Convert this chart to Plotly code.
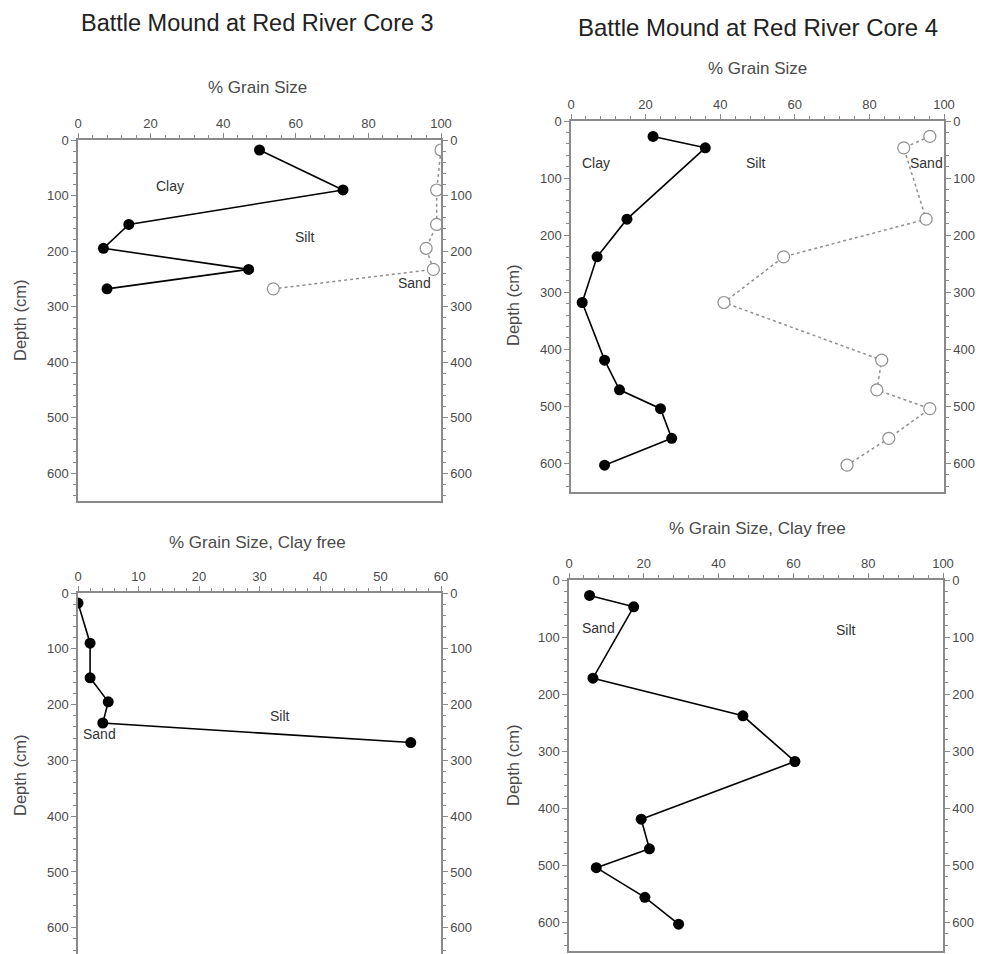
import plotly.graph_objects as go

# ---------------- data ----------------
depth_c3 = [18, 90, 152, 195, 233, 268]
clay_c3 = [50, 73, 14, 7, 47, 8]
claysilt_c3 = [100, 98.8, 98.8, 95.9, 97.9, 53.8]          # open circles (boundary silt/sand)
sand_cf_c3 = [0, 2, 2, 5, 4.1, 55]                          # clay-free

depth_c4 = [27, 47, 172, 238, 318, 419, 471, 504, 556, 603]
clay_c4 = [22, 36, 15, 7, 3, 9, 13, 24, 27, 9]
claysilt_c4 = [96.2, 89.2, 95.2, 57, 41, 83.3, 82, 96.2, 85.2, 74]
sand_cf_c4 = [5.5, 17.3, 6.4, 46.5, 60.4, 19.3, 21.5, 7.3, 20.3, 29.3]

titles = ["Battle Mound at Red River Core 3", "Battle Mound at Red River Core 4"]
subtitles = ["% Grain Size", "% Grain Size", "% Grain Size, Clay free", "% Grain Size, Clay free"]
ylabel = "Depth (cm)"

OFF = 8                      # page body margin
W, H = 984 - OFF, 954 - OFF
FONT = "Arial, Liberation Sans, sans-serif"
AX = "#8a8a8a"
TXT = "#4a4a4a"

# panel pixel boxes (screen coords): x0, x1, y0, y1
boxes = {
    1: (78, 441, 140, 501),
    2: (571, 944, 121, 492),
    3: (78, 441, 593, 954),
    4: (569, 943, 580, 951),
}
xmax = {1: 100, 2: 100, 3: 60, 4: 100}
xdt = {1: 20, 2: 20, 3: 10, 4: 20}
xminor = {1: 4, 2: 4, 3: 2, 4: 4}
ymax = {1: 650, 2: 650, 3: 647, 4: 650}

def px2x(px):
    return (px - OFF) / W

def py2y(py):
    return 1 - (py - OFF) / H

fig = go.Figure()

def ax(i):
    return ("x" if i == 1 else f"x{i}"), ("y" if i == 1 else f"y{i}")

def clay_line(i, x, y):
    xa, ya = ax(i)
    fig.add_trace(go.Scatter(x=x, y=y, xaxis=xa, yaxis=ya, mode="lines+markers",
                             line=dict(color="black", width=1.6),
                             marker=dict(color="black", size=11), showlegend=False))

def sand_line(i, x, y):
    xa, ya = ax(i)
    fig.add_trace(go.Scatter(x=x, y=y, xaxis=xa, yaxis=ya, mode="lines+markers",
                             line=dict(color="#8f8f8f", width=1.5, dash="dot"),
                             marker=dict(color="white", size=12,
                                         line=dict(color="#8f8f8f", width=1.2)),
                             showlegend=False))

clay_line(1, clay_c3, depth_c3)
sand_line(1, claysilt_c3, depth_c3)
clay_line(2, clay_c4, depth_c4)
sand_line(2, claysilt_c4, depth_c4)
clay_line(3, sand_cf_c3, depth_c3)
clay_line(4, sand_cf_c4, depth_c4)

layout = dict(width=W, height=H, margin=dict(l=0, r=0, t=0, b=0, autoexpand=False),
              paper_bgcolor="white", plot_bgcolor="white",
              font=dict(family=FONT, color=TXT, size=13), showlegend=False)

def common(extra):
    d = dict(showgrid=False, zeroline=False, automargin=False, showline=True,
             linecolor=AX, linewidth=1.5, ticks="outside", ticklen=5, tickcolor=AX,
             tickfont=dict(size=13, color=TXT))
    d.update(extra)
    return d

for i, (x0, x1, y0, y1) in boxes.items():
    xd = [max(0, px2x(x0)), min(1, px2x(x1))]
    yd = [max(0, py2y(y1)), min(1, py2y(y0))]
    xa, ya = ax(i)
    key_x = "xaxis" if i == 1 else f"xaxis{i}"
    key_y = "yaxis" if i == 1 else f"yaxis{i}"
    layout[key_x] = common(dict(domain=xd, anchor=ya, side="top", range=[0, xmax[i]],
                                dtick=xdt[i], tick0=0, mirror=(i != 3),
                                minor=dict(dtick=xminor[i], ticks="outside", ticklen=3,
                                           tickcolor=AX, showgrid=False)))
    layout[key_y] = common(dict(domain=yd, anchor=xa, range=[ymax[i], 0], dtick=100,
                                tick0=0,
                                minor=dict(dtick=20, ticks="outside", ticklen=3,
                                           tickcolor=AX, showgrid=False)))
    ri = i + 4
    layout[f"yaxis{ri}"] = common(dict(overlaying=ya, anchor=xa, side="right",
                                       range=[ymax[i], 0], dtick=100, tick0=0,
                                       minor=dict(dtick=20, ticks="outside", ticklen=3,
                                                  tickcolor=AX, showgrid=False)))
    fig.add_trace(go.Scatter(x=[None], y=[None], xaxis=xa, yaxis=f"y{ri}",
                             mode="markers", showlegend=False, hoverinfo="skip"))

ann = []
def pa(text, px, py, size, color=TXT, angle=0):
    ann.append(dict(text=text, x=px2x(px), y=py2y(py), xref="paper", yref="paper",
                    showarrow=False, font=dict(size=size, color=color, family=FONT),
                    textangle=angle, xanchor="center", yanchor="middle"))

pa(titles[0], 258, 23, 23.5, "#222222")
pa(titles[1], 758, 27, 24, "#222222")
pa(subtitles[0], 258, 88, 17)
pa(subtitles[1], 757, 69, 17)
pa(subtitles[2], 258, 542, 17)
pa(subtitles[3], 757, 528, 17)
pa(ylabel, 20, 320, 16.5, TXT, -90)
pa(ylabel, 513, 305, 16.5, TXT, -90)
pa(ylabel, 20, 775, 16.5, TXT, -90)
pa(ylabel, 513, 765, 16.5, TXT, -90)

def da(text, i, x, y):
    xa, ya = ax(i)
    ann.append(dict(text=text, x=x, y=y, xref=xa, yref=ya, showarrow=False,
                    font=dict(size=14, color="#333333", family=FONT)))

da("Clay", 1, 25.3, 82)
da("Silt", 1, 62.6, 175)
da("Sand", 1, 92.6, 258)
da("Clay", 2, 6.7, 73)
da("Silt", 2, 49.5, 73)
da("Sand", 2, 95.4, 73)
da("Silt", 3, 33.4, 221)
da("Sand", 3, 3.6, 252)
da("Sand", 4, 7.8, 84)
da("Silt", 4, 74, 88)

layout["annotations"] = ann
fig.update_layout(**layout)
fig.write_html("out.html")
